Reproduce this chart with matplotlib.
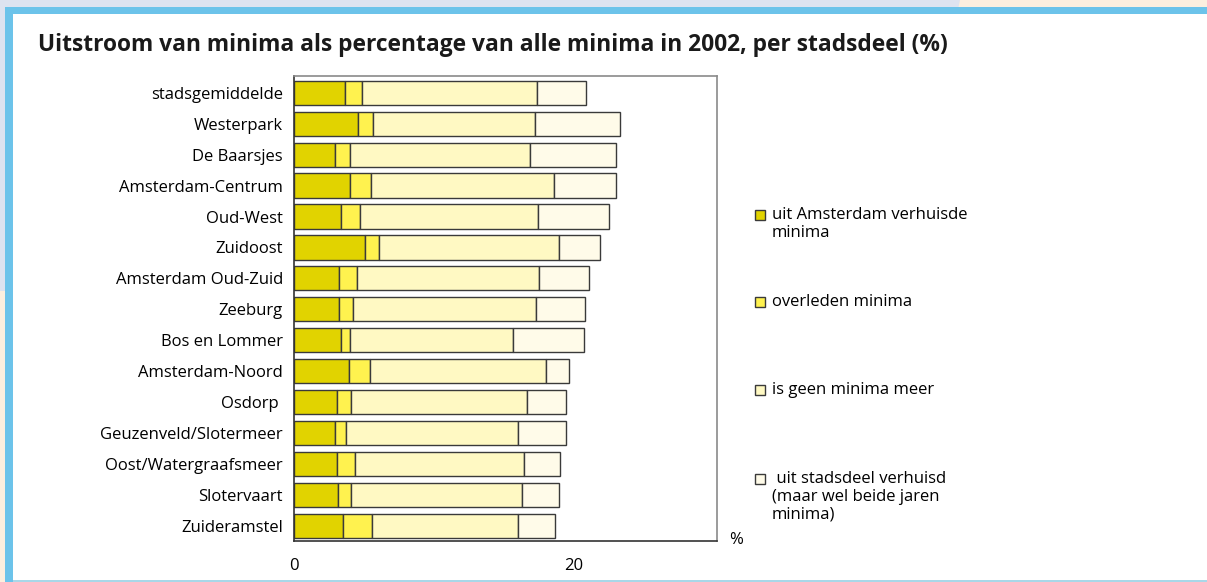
import numpy as np
import matplotlib.pyplot as plt
from matplotlib.patches import Rectangle, Polygon

plt.rcParams['font.family'] = ['Open Sans', 'DejaVu Sans']

stadsdelen = ["stadsgemiddelde", "Westerpark", "De Baarsjes", "Amsterdam-Centrum",
              "Oud-West", "Zuidoost", "Amsterdam Oud-Zuid", "Zeeburg", "Bos en Lommer",
              "Amsterdam-Noord", "Osdorp ", "Geuzenveld/Slotermeer", "Oost/Watergraafsmeer",
              "Slotervaart", "Zuideramstel"]

# percentages per category
uit_amsterdam = [3.64, 4.55, 2.93, 3.99, 3.34, 5.11, 3.23, 3.23, 3.34, 3.94, 3.08, 2.93, 3.08, 3.18, 3.49]
overleden     = [1.21, 1.11, 1.11, 1.52, 1.42, 1.01, 1.31, 1.01, 0.66, 1.47, 1.01, 0.81, 1.26, 0.91, 2.12]
geen_minima   = [12.53, 11.62, 12.84, 13.14, 12.69, 12.89, 13.04, 13.09, 11.68, 12.64, 12.59, 12.28, 12.13, 12.23, 10.41]
uit_stadsdeel = [3.54, 6.07, 6.17, 4.45, 5.11, 2.93, 3.54, 3.54, 5.11, 1.62, 2.83, 3.49, 2.58, 2.68, 2.68]

series = [uit_amsterdam, overleden, geen_minima, uit_stadsdeel]
colors = ["#e1d300", "#fff24f", "#fff9c3", "#fffbe9"]
legend_labels = ["uit Amsterdam verhuisde\nminima", "overleden minima",
                 "is geen minima meer", " uit stadsdeel verhuisd\n(maar wel beide jaren\nminima)"]

W, H = 1207, 582
fig = plt.figure(figsize=(12.07, 5.82), dpi=100)
fig.patch.set_facecolor("#fcefdf")

# background: lavender top-left, blue border left/top, white panel
fig.patches.append(Polygon([(0, 1), (960/W, 1), (900/W, 0.5), (0, 0.5)], closed=True,
                           transform=fig.transFigure, facecolor="#dde3f0", edgecolor="none", zorder=-4))
fig.patches.append(Rectangle((5/W, 0), 1, 1 - 7/H, transform=fig.transFigure,
                             facecolor="#6cc3ea", edgecolor="none", zorder=-3))
fig.patches.append(Rectangle((13/W, 0), 1, 1 - 14/H, transform=fig.transFigure,
                             facecolor="white", edgecolor="none", zorder=-2))
fig.patches.append(Rectangle((13/W, 0), 1, 2/H, transform=fig.transFigure,
                             facecolor="#a9d7e8", edgecolor="none", zorder=-1))

ax = fig.add_axes([294/W, 1 - 541/H, 423/W, 465/H])
ax.set_facecolor("none")
y = np.arange(len(stadsdelen))
left = np.zeros(len(stadsdelen))
for vals, c in zip(series, colors):
    ax.barh(y, vals, left=left, height=0.78, color=c, edgecolor="#3a3a3a", linewidth=1.0)
    left = left + np.array(vals)

ax.set_xlim(0, 30.3)
ax.set_ylim(14.485, -0.54)
ax.set_yticks(y)
ax.set_yticklabels(stadsdelen, fontsize=12)
ax.set_xticks([0, 20])
ax.set_xticklabels(["0", "20"], fontsize=12)
ax.tick_params(length=0)
ax.tick_params(axis="x", pad=12)
ax.tick_params(axis="y", pad=8)
for s in ["top", "right"]:
    ax.spines[s].set_color("#8a8a8a")
for s in ["left", "bottom"]:
    ax.spines[s].set_color("#333333")
for s in ax.spines.values():
    s.set_linewidth(1.2)

fig.text(736/W, 1 - 540/H, "%", fontsize=12, ha="center", va="center")

fig.text(38/W, 1 - 45/H, "Uitstroom van minima als percentage van alle minima in 2002, per stadsdeel (%)",
         fontsize=16.4, fontweight="bold", ha="left", va="center", color="#1a1a1a")

# legend
leg_y = [214, 301, 389, 478]
for yy, c, lab in zip(leg_y, colors, legend_labels):
    fig.patches.append(Rectangle((755/W, 1 - (yy + 6)/H), 10/W, 10/H,
                                 transform=fig.transFigure, facecolor=c, edgecolor="#3a3a3a",
                                 linewidth=1.0, zorder=2))
    fig.text(772/W, 1 - (yy - 7)/H, lab, fontsize=12, ha="left", va="top",
             linespacing=1.15)

plt.savefig("out.png", dpi=100, facecolor=fig.get_facecolor())
